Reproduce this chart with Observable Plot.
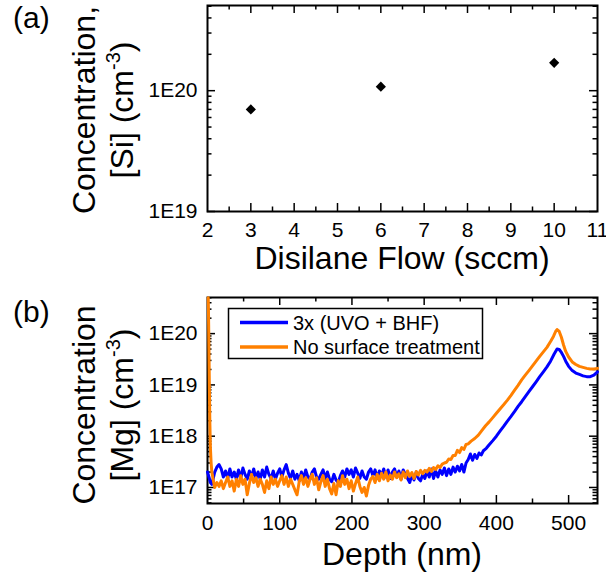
<!DOCTYPE html>
<html><head><meta charset="utf-8">
<script src="https://cdn.jsdelivr.net/npm/d3@7"></script>
<script src="https://cdn.jsdelivr.net/npm/@observablehq/plot@0.6"></script>
<style>
body{margin:0;background:#fff;}
#chart{width:606px;height:575px;position:relative;}
#chart svg{display:block;}
</style></head><body><div id="chart"></div>
<script>
// ---- Panel (a) data ----
const flow = [3, 6, 10];
const siConc = [7.0e19, 1.08e20, 1.70e20];
const flowTicks = [2, 3, 4, 5, 6, 7, 8, 9, 10, 11];
const flowMinor = [2.5, 3.5, 4.5, 5.5, 6.5, 7.5, 8.5, 9.5, 10.5];
const siTicks = [1e19, 1e20];

// ---- Panel (b) data ----
const depthTicks = [0, 100, 200, 300, 400, 500];
const depthMinor = [50, 150, 250, 350, 450];
const mgTicks = [1e17, 1e18, 1e19, 1e20];
const seriesNames = ["3x (UVO + BHF)", "No surface treatment"];
const seriesColors = ["#0000ff", "#ff8000"];

const blueDepth = [0,2,4,6,8,10,13,16,19,22,25,28,31,34,37,40,43,46,49,52,55,58,61,64,67,70,73,76,79,82,85,88,91,94,97,100,103,106,109,112,115,118,121,124,127,130,133,136,139,142,145,148,151,154,157,160,163,166,169,172,175,178,181,184,187,190,193,196,199,202,205,208,211,214,217,220,223,226,229,232,235,238,241,244,247,250,253,256,259,262,265,268,271,274,277,280,283,286,289,292,295,298,301,304,307,310,313,316,319,322,325,328,331,334,337,340,343,346,349,352,355,358,361,364,367,370,373,376,379,382,386,390,395,400,405,410,415,420,425,430,435,440,445,450,455,460,465,470,475,480,484,487,490,493,496,500,505,510,515,520,525,530,535,540];
const blueConc = [2.0e17,1.6e17,1.25e17,1.15e17,1.5e17,2.0e17,2.5e17,2.8e17,2.3e17,1.6e17,2.1e17,1.5e17,2.3e17,1.6e17,2.0e17,1.45e17,2.2e17,1.5e17,2.4e17,1.8e17,1.45e17,2.1e17,1.6e17,2.3e17,1.5e17,2.0e17,1.45e17,2.2e17,1.6e17,2.5e17,1.8e17,1.5e17,2.1e17,1.45e17,1.9e17,2.3e17,1.6e17,2.2e17,2.8e17,1.9e17,1.5e17,2.1e17,1.45e17,1.8e17,1.35e17,2.0e17,1.5e17,2.2e17,1.6e17,1.45e17,2.0e17,2.3e17,1.6e17,1.45e17,1.8e17,2.2e17,1.5e17,2.0e17,1.45e17,1.3e17,1.8e17,1.4e17,1.25e17,1.7e17,2.1e17,1.6e17,2.3e17,1.8e17,2.2e17,1.6e17,2.4e17,1.9e17,1.5e17,2.1e17,1.6e17,1.45e17,2.0e17,2.3e17,1.7e17,2.2e17,1.5e17,2.1e17,1.7e17,2.3e17,1.6e17,2.2e17,1.5e17,2.0e17,2.3e17,1.6e17,2.1e17,1.45e17,2.2e17,1.8e17,1.5e17,1.25e17,1.8e17,1.4e17,2.0e17,1.5e17,1.35e17,1.8e17,1.5e17,2.1e17,1.6e17,2.3e17,1.5e17,2.1e17,1.6e17,2.2e17,1.8e17,2.4e17,1.7e17,2.3e17,1.8e17,2.5e17,2.0e17,2.6e17,2.1e17,2.8e17,2.0e17,3.0e17,3.5e17,4.5e17,3.4e17,4.4e17,3.7e17,4.7e17,4.3e17,5.2e17,5.8e17,6.8e17,8.2e17,1.0e18,1.25e18,1.55e18,1.95e18,2.4e18,3.0e18,3.8e18,4.7e18,5.9e18,7.4e18,9.2e18,1.15e19,1.45e19,1.8e19,2.25e19,2.9e19,4.0e19,5.0e19,4.9e19,4.3e19,3.6e19,2.9e19,2.3e19,1.9e19,1.7e19,1.6e19,1.5e19,1.45e19,1.45e19,1.55e19,1.8e19];

const orangeDepth = [1,1.3,1.6,2,2.5,3.2,4,5,6,8,10,13,16,19,22,25,28,31,34,37,40,43,46,49,52,55,58,61,64,67,70,73,76,79,82,85,88,91,94,97,100,103,106,109,112,115,118,121,124,127,130,133,136,139,142,145,148,151,154,157,160,163,166,169,172,175,178,181,184,187,190,193,196,199,202,205,208,211,214,217,220,223,226,229,232,235,238,241,244,247,250,253,256,259,262,265,268,271,274,277,280,283,286,289,292,295,298,301,304,307,310,313,316,319,322,325,328,331,334,337,340,343,346,349,352,355,358,361,365,370,375,380,385,390,395,400,405,410,415,420,425,430,435,440,445,450,455,460,465,470,475,479,482,484,487,490,493,496,500,505,510,515,520,525,530,535,540];
const orangeConc = [5.0e20,3e20,1.5e20,5e19,1.2e19,2e18,6e17,3e17,2e17,1.4e17,1.0e17,1.25e17,1.05e17,1.35e17,0.95e17,1.25e17,1.6e17,1.05e17,1.35e17,0.85e17,1.45e17,1.05e17,1.7e17,1.15e17,1.45e17,0.72e17,1.2e17,1.8e17,1.25e17,1.55e17,1.05e17,1.45e17,1.15e17,0.8e17,1.35e17,0.95e17,1.6e17,1.15e17,1.45e17,1.05e17,1.35e17,1.7e17,1.15e17,1.6e17,1.05e17,1.45e17,1.15e17,0.9e17,0.72e17,1.3e17,1.7e17,1.15e17,1.55e17,1.05e17,1.45e17,1.8e17,1.15e17,1.55e17,0.9e17,1.3e17,1.7e17,1.05e17,1.45e17,0.95e17,0.75e17,1.2e17,0.72e17,1.35e17,1.05e17,1.7e17,1.15e17,1.45e17,0.95e17,1.35e17,0.85e17,1.2e17,1.6e17,1.05e17,0.8e17,1.0e17,0.68e17,1.1e17,1.45e17,1.65e17,1.25e17,1.8e17,1.35e17,1.9e17,1.45e17,2.0e17,1.35e17,1.75e17,1.45e17,2.0e17,1.55e17,1.85e17,1.4e17,2.0e17,1.55e17,2.1e17,1.65e17,1.95e17,1.5e17,2.05e17,1.75e17,2.15e17,1.85e17,2.15e17,2.0e17,2.35e17,2.05e17,2.45e17,2.25e17,2.65e17,2.45e17,2.85e17,3.0e17,3.1e17,3.6e17,3.5e17,4.2e17,4.2e17,5.3e17,4.8e17,6.0e17,5.5e17,6.9e17,7.1e17,8.0e17,9.0e17,1.05e18,1.3e18,1.6e18,1.9e18,2.3e18,2.8e18,3.4e18,4.1e18,5.0e18,6.2e18,7.8e18,9.8e18,1.25e19,1.55e19,1.9e19,2.35e19,2.9e19,3.6e19,4.4e19,5.4e19,7.0e19,8.8e19,1.1e20,1.2e20,1.1e20,8.5e19,6.0e19,4.5e19,3.5e19,2.8e19,2.5e19,2.3e19,2.2e19,2.1e19,2.05e19,2.05e19,2.1e19];

// ---- helpers ----
const FONT = "'Liberation Sans', Arial, Helvetica, sans-serif";
const W = 606;
function minorLog(lo, hi) {
  const out = [];
  for (let e = Math.floor(Math.log10(lo)); e <= Math.ceil(Math.log10(hi)); e++)
    for (let k = 2; k <= 9; k++) { const v = k * 10 ** e; if (v > lo * 1.001 && v < hi * 0.999) out.push(v); }
  return out;
}
function frameTicks(xMaj, xMin, yMaj, yMin, innerW, innerH) {
  const L = 8, S = 4.5, o = {stroke: "black", strokeWidth: 1.5};
  return [
    Plot.ruleX(xMaj, {x: d => d, insetTop: innerH - L, ...o}),
    Plot.ruleX(xMaj, {x: d => d, insetBottom: innerH - L, ...o}),
    Plot.ruleX(xMin, {x: d => d, insetTop: innerH - S, ...o}),
    Plot.ruleX(xMin, {x: d => d, insetBottom: innerH - S, ...o}),
    Plot.ruleY(yMaj, {y: d => d, insetRight: innerW - L, ...o}),
    Plot.ruleY(yMaj, {y: d => d, insetLeft: innerW - L, ...o}),
    Plot.ruleY(yMin, {y: d => d, insetRight: innerW - S, ...o}),
    Plot.ruleY(yMin, {y: d => d, insetLeft: innerW - S, ...o})
  ];
}
const expFmt = d => "1E" + Math.round(Math.log10(d));

function addText(svg, x, y, size, str, anchor) {
  return d3.select(svg).append("text").attr("x", x).attr("y", y)
    .attr("text-anchor", anchor || "start").attr("font-family", FONT)
    .attr("font-size", size).attr("fill", "black").text(str);
}
function addYLabel(svg, line1, pre, cx, cy) {
  const g = d3.select(svg).append("g").attr("font-family", FONT).attr("fill", "black");
  g.append("text").attr("transform", `translate(${cx[0]},${cy}) rotate(-90)`)
    .attr("text-anchor", "middle").attr("font-size", 32).text(line1);
  const t = g.append("text").attr("transform", `translate(${cx[1]},${cy}) rotate(-90)`)
    .attr("text-anchor", "middle").attr("font-size", 32);
  t.append("tspan").text(pre + " (cm");
  t.append("tspan").attr("font-size", 20).attr("dy", -13).text("-3");
  t.append("tspan").attr("dy", 13).text(")");
}

// ---- Panel (a) ----
const mA = {top: 5, right: 9, bottom: 79, left: 207}, hA = 290;
const iwA = W - mA.left - mA.right, ihA = hA - mA.top - mA.bottom;
const dataA = flow.map((f, i) => ({f, c: siConc[i]}));
const plotA = Plot.plot({
  width: W, height: hA,
  marginTop: mA.top, marginRight: mA.right, marginBottom: mA.bottom, marginLeft: mA.left,
  style: {fontFamily: FONT, fontSize: "21px", color: "black", background: "white", overflow: "visible"},
  x: {domain: [2, 11]},
  y: {type: "log", domain: [1e19, 5.07e20]},
  marks: [
    ...frameTicks(flowTicks.slice(1, -1), flowMinor, siTicks, minorLog(1e19, 5.07e20), iwA, ihA),
    Plot.frame({stroke: "black", strokeWidth: 2}),
    Plot.axisX({ticks: flowTicks, tickSize: 0, tickPadding: 11, label: null, tickFormat: d => String(d)}),
    Plot.axisY({ticks: siTicks, tickSize: 0, tickPadding: 10, label: null, tickFormat: expFmt}),
    Plot.dot(dataA, {x: "f", y: "c", symbol: "diamond2", r: 4.6, fill: "black", stroke: "none"})
  ]
});
document.getElementById("chart").appendChild(plotA);
addYLabel(plotA, "Concentration,", "[Si]", [95, 133], 110);
addText(plotA, 402, 269, 32, "Disilane Flow (sccm)", "middle");
addText(plotA, 13, 28, 30, "(a)");

// ---- Panel (b) ----
const mB = {top: 7, right: 9, bottom: 72, left: 207}, hB = 285;
const iwB = W - mB.left - mB.right, ihB = hB - mB.top - mB.bottom;
const blue = blueDepth.map((d, i) => ({d, c: blueConc[i]}));
const orange = orangeDepth.map((d, i) => ({d, c: orangeConc[i]}));
const yDomB = [4.87e16, 5.06e20];
const plotB = Plot.plot({
  width: W, height: hB,
  marginTop: mB.top, marginRight: mB.right, marginBottom: mB.bottom, marginLeft: mB.left,
  style: {fontFamily: FONT, fontSize: "21px", color: "black", background: "white", overflow: "visible"},
  x: {domain: [0, 540]},
  y: {type: "log", domain: yDomB},
  marks: [
    ...frameTicks(depthTicks.slice(1), depthMinor, mgTicks, minorLog(yDomB[0], yDomB[1]), iwB, ihB),
    Plot.frame({stroke: "black", strokeWidth: 2}),
    Plot.line(blue, {x: "d", y: "c", stroke: seriesColors[0], strokeWidth: 3}),
    Plot.line(orange, {x: "d", y: "c", stroke: seriesColors[1], strokeWidth: 3}),
    Plot.axisX({ticks: depthTicks, tickSize: 0, tickPadding: 12, label: null, tickFormat: d => String(d)}),
    Plot.axisY({ticks: mgTicks, tickSize: 0, tickPadding: 10, label: null, tickFormat: expFmt})
  ]
});
document.getElementById("chart").appendChild(plotB);
addYLabel(plotB, "Concentration", "[Mg]", [95, 133], 115);
addText(plotB, 402, 275, 32, "Depth (nm)", "middle");
addText(plotB, 13, 32, 30, "(b)");

// legend
const lg = d3.select(plotB).append("g").attr("font-family", FONT).attr("text-anchor", "start");
lg.append("rect").attr("x", 228.5).attr("y", 18.5).attr("width", 254).attr("height", 50)
  .attr("fill", "white").attr("stroke", "black").attr("stroke-width", 1.5);
seriesNames.forEach((name, i) => {
  const y = 32.5 + i * 24.5;
  lg.append("line").attr("x1", 240).attr("x2", 288).attr("y1", y).attr("y2", y)
    .attr("stroke", seriesColors[i]).attr("stroke-width", 3.5);
  lg.append("text").attr("x", 293).attr("y", y + 7).attr("font-size", 20).attr("fill", "black").text(name);
});
</script>
</body></html>
